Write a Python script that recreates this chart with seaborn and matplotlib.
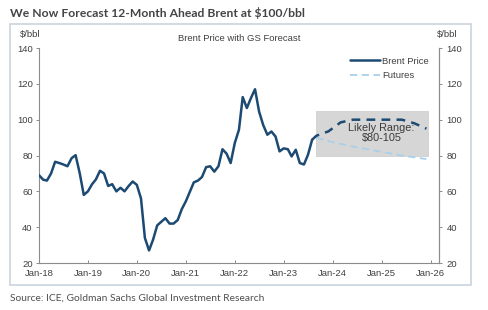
import pandas as pd
import matplotlib.pyplot as plt
import matplotlib.dates as mdates
from matplotlib.lines import Line2D
from matplotlib.patches import Rectangle
import seaborn as sns

sns.set_theme(style="white")
plt.rcParams['font.family'] = ['Liberation Sans', 'DejaVu Sans']

# --- dados ---
brent_start = '2018-01-01'
brent = [69, 66.5, 66, 70, 76.5, 75.8, 75, 74, 78.5, 80.2, 70, 58,
         60, 64, 66.6, 71.5, 70, 63, 64, 60, 62, 60, 63, 65.5,
         63.6, 56, 34, 27, 33, 41, 43, 45, 42, 42, 44, 50,
         54.5, 60, 65, 66, 68, 73.5, 74, 71, 74, 83.5, 81, 75.8,
         87, 94.4, 112.6, 106.5, 112, 117, 104.6, 97, 91.6, 93.4, 90.6, 82.3,
         84, 83.5, 79.5, 83.2, 75.8, 75, 80.4, 88.8]

gs_dates = ['2023-08-01', '2023-09-01', '2023-12-01', '2024-03-01', '2024-06-01', '2024-09-01',
            '2024-12-01', '2025-03-01', '2025-06-01', '2025-09-01', '2025-12-01']
gs_fcst = [88.8, 91, 93.5, 98.5, 100, 100, 100, 100, 100, 98, 95]

fut_dates = ['2023-09-01', '2023-12-01', '2024-06-01', '2024-12-01', '2025-06-01', '2025-12-01']
futures = [90, 88, 85, 82.5, 80, 78]

range_start, range_end = '2023-09-01', '2025-12-15'
range_low, range_high = 80, 105

df_brent = pd.DataFrame({'data': pd.date_range(brent_start, periods=len(brent), freq='MS'), 'preco': brent})
df_gs = pd.DataFrame({'data': pd.to_datetime(gs_dates), 'preco': gs_fcst})
df_fut = pd.DataFrame({'data': pd.to_datetime(fut_dates), 'preco': futures})

azul = '#1c4a72'
azul_claro = '#a9d0ea'
cinza_txt = '#404040'
fs = 6.8

fig = plt.figure(figsize=(4.89, 3.10), dpi=100)
ax = fig.add_axes([0.0798, 0.1516, 0.818, 0.6935])

# moldura externa
fig.patches.append(Rectangle((0.0204, 0.0806), 0.943, 0.842, transform=fig.transFigure,
                             facecolor='none', edgecolor='#c9d3de', lw=1.2, zorder=0))

# faixa provável
x0 = mdates.date2num(pd.Timestamp(range_start))
x1 = mdates.date2num(pd.Timestamp(range_end))
ax.add_patch(Rectangle((x0, range_low), x1 - x0, range_high - range_low,
                       facecolor='#d6d6d6', edgecolor='#cfcfcf', lw=0.6, zorder=1))
ax.text(mdates.date2num(pd.Timestamp('2025-01-01')), 92.5, 'Likely Range:\n$80-105',
        ha='center', va='center', fontsize=7.8, color='#3a3a3a', zorder=5, linespacing=1.05)

sns.lineplot(data=df_fut, x='data', y='preco', ax=ax, color=azul_claro, lw=1.3,
             linestyle=(0, (4, 2.5)), zorder=3)
sns.lineplot(data=df_brent, x='data', y='preco', ax=ax, color=azul, lw=1.8, zorder=4)
sns.lineplot(data=df_gs, x='data', y='preco', ax=ax, color=azul, lw=1.8,
             linestyle=(0, (3.5, 2.5)), zorder=4)

ax.set_xlim(mdates.date2num(pd.Timestamp('2018-01-01')), mdates.date2num(pd.Timestamp('2026-03-05')))
ax.set_ylim(20, 140)
ax.set_yticks(range(20, 141, 20))
ax.xaxis.set_major_locator(mdates.YearLocator())
ax.xaxis.set_major_formatter(mdates.DateFormatter('Jan-%y'))
ax.set_xlabel('')
ax.set_ylabel('')

for s in ['left', 'bottom', 'right']:
    ax.spines[s].set_color('#8c8c8c')
    ax.spines[s].set_linewidth(0.8)
ax.spines['top'].set_visible(False)
ax.tick_params(axis='y', direction='out', length=2.5, width=0.7, color='#8c8c8c',
               labelsize=fs, labelcolor=cinza_txt, pad=2, left=True)
ax.tick_params(axis='x', direction='in', length=2.5, width=0.7, color='#8c8c8c',
               labelsize=fs, labelcolor=cinza_txt, pad=4, bottom=True)

ax2 = ax.twinx()
ax2.set_ylim(20, 140)
ax2.set_yticks(range(20, 141, 20))
ax2.spines['top'].set_visible(False)
ax2.spines['left'].set_visible(False)
ax2.spines['bottom'].set_visible(False)
ax2.spines['right'].set_color('#8c8c8c')
ax2.spines['right'].set_linewidth(0.8)
ax2.tick_params(axis='y', direction='out', length=2.5, width=0.7, color='#8c8c8c',
                labelsize=fs, labelcolor=cinza_txt, pad=3, right=True)

ax.text(0.5, 1.045, 'Brent Price with GS Forecast', transform=ax.transAxes,
        ha='center', va='center', fontsize=fs, color=cinza_txt)
fig.text(30 / 489, 1 - 34 / 310, '$/bbl', ha='center', va='center', fontsize=fs, color=cinza_txt)
fig.text(447 / 489, 1 - 34 / 310, '$/bbl', ha='center', va='center', fontsize=fs, color=cinza_txt)

handles = [Line2D([], [], color=azul, lw=1.8),
           Line2D([], [], color=azul_claro, lw=1.3, linestyle=(0, (4, 2.5)))]
ax.legend(handles, ['Brent Price', 'Futures'], loc='upper right', bbox_to_anchor=(0.995, 1.0),
          frameon=False, fontsize=fs, handlelength=3.2, handletextpad=0.2, labelspacing=0.6,
          labelcolor=cinza_txt)

fig.text(10 / 489, 1 - 13 / 310, 'We Now Forecast 12-Month Ahead Brent at $100/bbl',
         ha='left', va='center', fontsize=8.7, fontweight='bold', color='#444444',
         family=['Lato', 'DejaVu Sans'])
fig.text(10 / 489, 1 - 298 / 310, 'Source: ICE, Goldman Sachs Global Investment Research',
         ha='left', va='center', fontsize=7.4, color='#505050', family=['Lato', 'DejaVu Sans'])

plt.savefig('out.png', dpi=100)
